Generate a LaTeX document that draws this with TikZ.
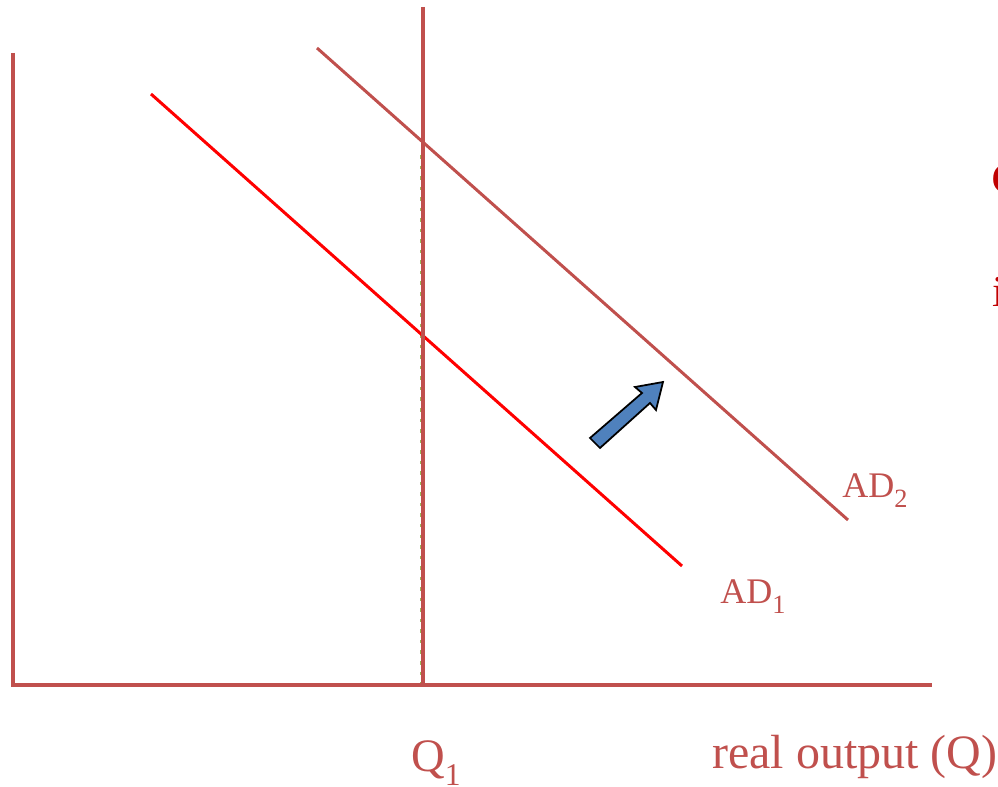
\documentclass[tikz,border=0pt]{standalone}
\usepackage{fontspec}
\setmainfont{Liberation Serif}
\definecolor{axisred}{HTML}{C0504D}
\definecolor{adred}{HTML}{FF0000}
\definecolor{arrowblue}{HTML}{4F81BD}
\definecolor{dashgreen}{HTML}{9BBB59}
\definecolor{titlered}{HTML}{C00000}
\newcommand{\mysub}[3]{\raisebox{-#2}{\fontsize{#1}{#1}\selectfont #3}}
\begin{document}
\begin{tikzpicture}[x=0.02cm,y=-0.02cm,
  axisline/.style={draw=axisred,line width=2.3pt},
  curveline/.style={line width=1.7pt},
  lbl/.style={anchor=base west,inner sep=0pt,text=axisred},
  cut/.style={anchor=base west,inner sep=0pt,text=titlered}]
\useasboundingbox (0,0) rectangle (998,787);
% coordinates
\coordinate (ytop) at (13,53);
\coordinate (origin) at (13,685);
\coordinate (xend) at (932,685);
\coordinate (vtop) at (423,7);
\coordinate (vbot) at (423,685);
\coordinate (dtop) at (420.5,155);
\coordinate (dbot) at (420.5,683);
\coordinate (a1s) at (151,94);
\coordinate (a1e) at (682,566);
\coordinate (a2s) at (317,48);
\coordinate (a2e) at (848,520);
% dashed guide
\draw[dashgreen,line width=0.6pt,dash pattern=on 2pt off 4pt] (dtop) -- (dbot);
% demand curves
\draw[curveline,adred] (a1s) -- (a1e);
\draw[curveline,axisred] (a2s) -- (a2e);
% vertical line
\draw[axisline,line width=2.1pt] (vtop) -- (vbot);
% axes
\draw[axisline] (ytop) -- (origin) -- (xend);
% block arrow
\filldraw[fill=arrowblue,draw=black,line width=1pt,line join=miter]
  (590,438) -- (642,393) -- (635,387) -- (663,382) -- (656,410) -- (650,403) -- (600,448) -- cycle;
% labels
\node[lbl,font=\fontsize{20.5pt}{24pt}\selectfont] (ad1) at (720,603) {AD\mysub{15pt}{6pt}{1}};
\node[lbl,font=\fontsize{20.5pt}{24pt}\selectfont] (ad2) at (842,497) {AD\mysub{15pt}{6pt}{2}};
\node[lbl,font=\fontsize{26.5pt}{30pt}\selectfont] (q1) at (411,771) {Q\mysub{18pt}{8pt}{1}};
\node[lbl,font=\fontsize{27.3pt}{31pt}\selectfont] (xlab) at (712,768) {real output (Q)};
% cut-off text at right edge
\node[cut,font=\bfseries\fontsize{25pt}{30pt}\selectfont] (cutc) at (991,194) {C};
\node[cut,font=\fontsize{25pt}{30pt}\selectfont] (cuti) at (992,307) {i};
\end{tikzpicture}
\end{document}
